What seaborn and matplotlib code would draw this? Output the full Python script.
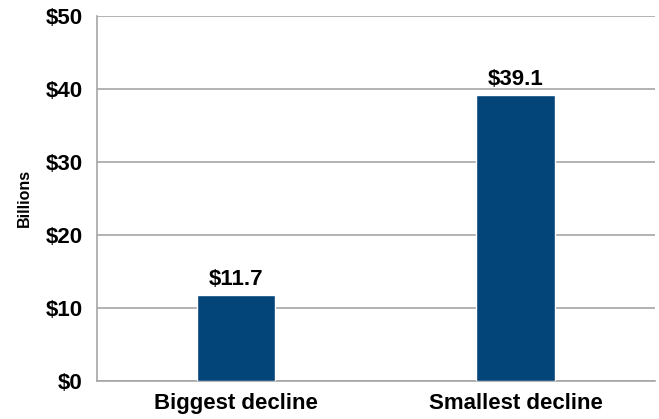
import numpy as np
import matplotlib
matplotlib.use("Agg")
import matplotlib.pyplot as plt
import seaborn as sns

categories = ["Biggest decline", "Smallest decline"]
values = [11.7, 39.1]
value_labels = ["$11.7", "$39.1"]
yticks = [0, 10, 20, 30, 40, 50]

sns.set_style("white")
plt.rcParams['font.family'] = ['Liberation Sans', 'DejaVu Sans']
plt.rcParams['text.color'] = 'black'
plt.rcParams['axes.labelcolor'] = 'black'

fig = plt.figure(figsize=(6.59, 4.19), dpi=100)
ax = fig.add_axes([0.147, 0.091, 0.847, 0.871])

grid_col = "#a6a6a6"
sns.barplot(x=categories, y=values, color="#034479", width=0.28, saturation=1, ax=ax, zorder=3)

ax.set_ylim(0, 50)
ax.set_xlim(-0.5, 1.5)
ax.set_yticks(yticks)
ax.set_yticklabels([f"${v}" for v in yticks], fontsize=16, fontweight="bold")
ax.yaxis.grid(True, color=grid_col, linewidth=1.2, zorder=0)
ax.set_axisbelow(True)

# category labels without ticks, boundary ticks as minor
ax.set_xticks([0, 1])
ax.set_xticklabels(categories, fontsize=16, fontweight="bold")
ax.set_xticks([-0.5, 0.5, 1.5], minor=True)
ax.tick_params(axis="x", which="major", length=0, pad=9, labelcolor="black")
ax.tick_params(axis="x", which="minor", length=6, color=grid_col, width=1.2)
ax.tick_params(axis="y", length=6, color=grid_col, labelcolor="black", width=1.2, pad=4)

for s in ["top", "right"]:
    ax.spines[s].set_visible(False)
for s in ["left", "bottom"]:
    ax.spines[s].set_color(grid_col)
    ax.spines[s].set_linewidth(1.2)

ax.set_ylabel("Billions", fontsize=11.5, fontweight="bold", labelpad=10)
ax.set_xlabel("")

ax.bar_label(ax.containers[0], labels=value_labels, padding=4, fontsize=16, fontweight="bold", color="black")

fig.savefig("out.png", dpi=100)
